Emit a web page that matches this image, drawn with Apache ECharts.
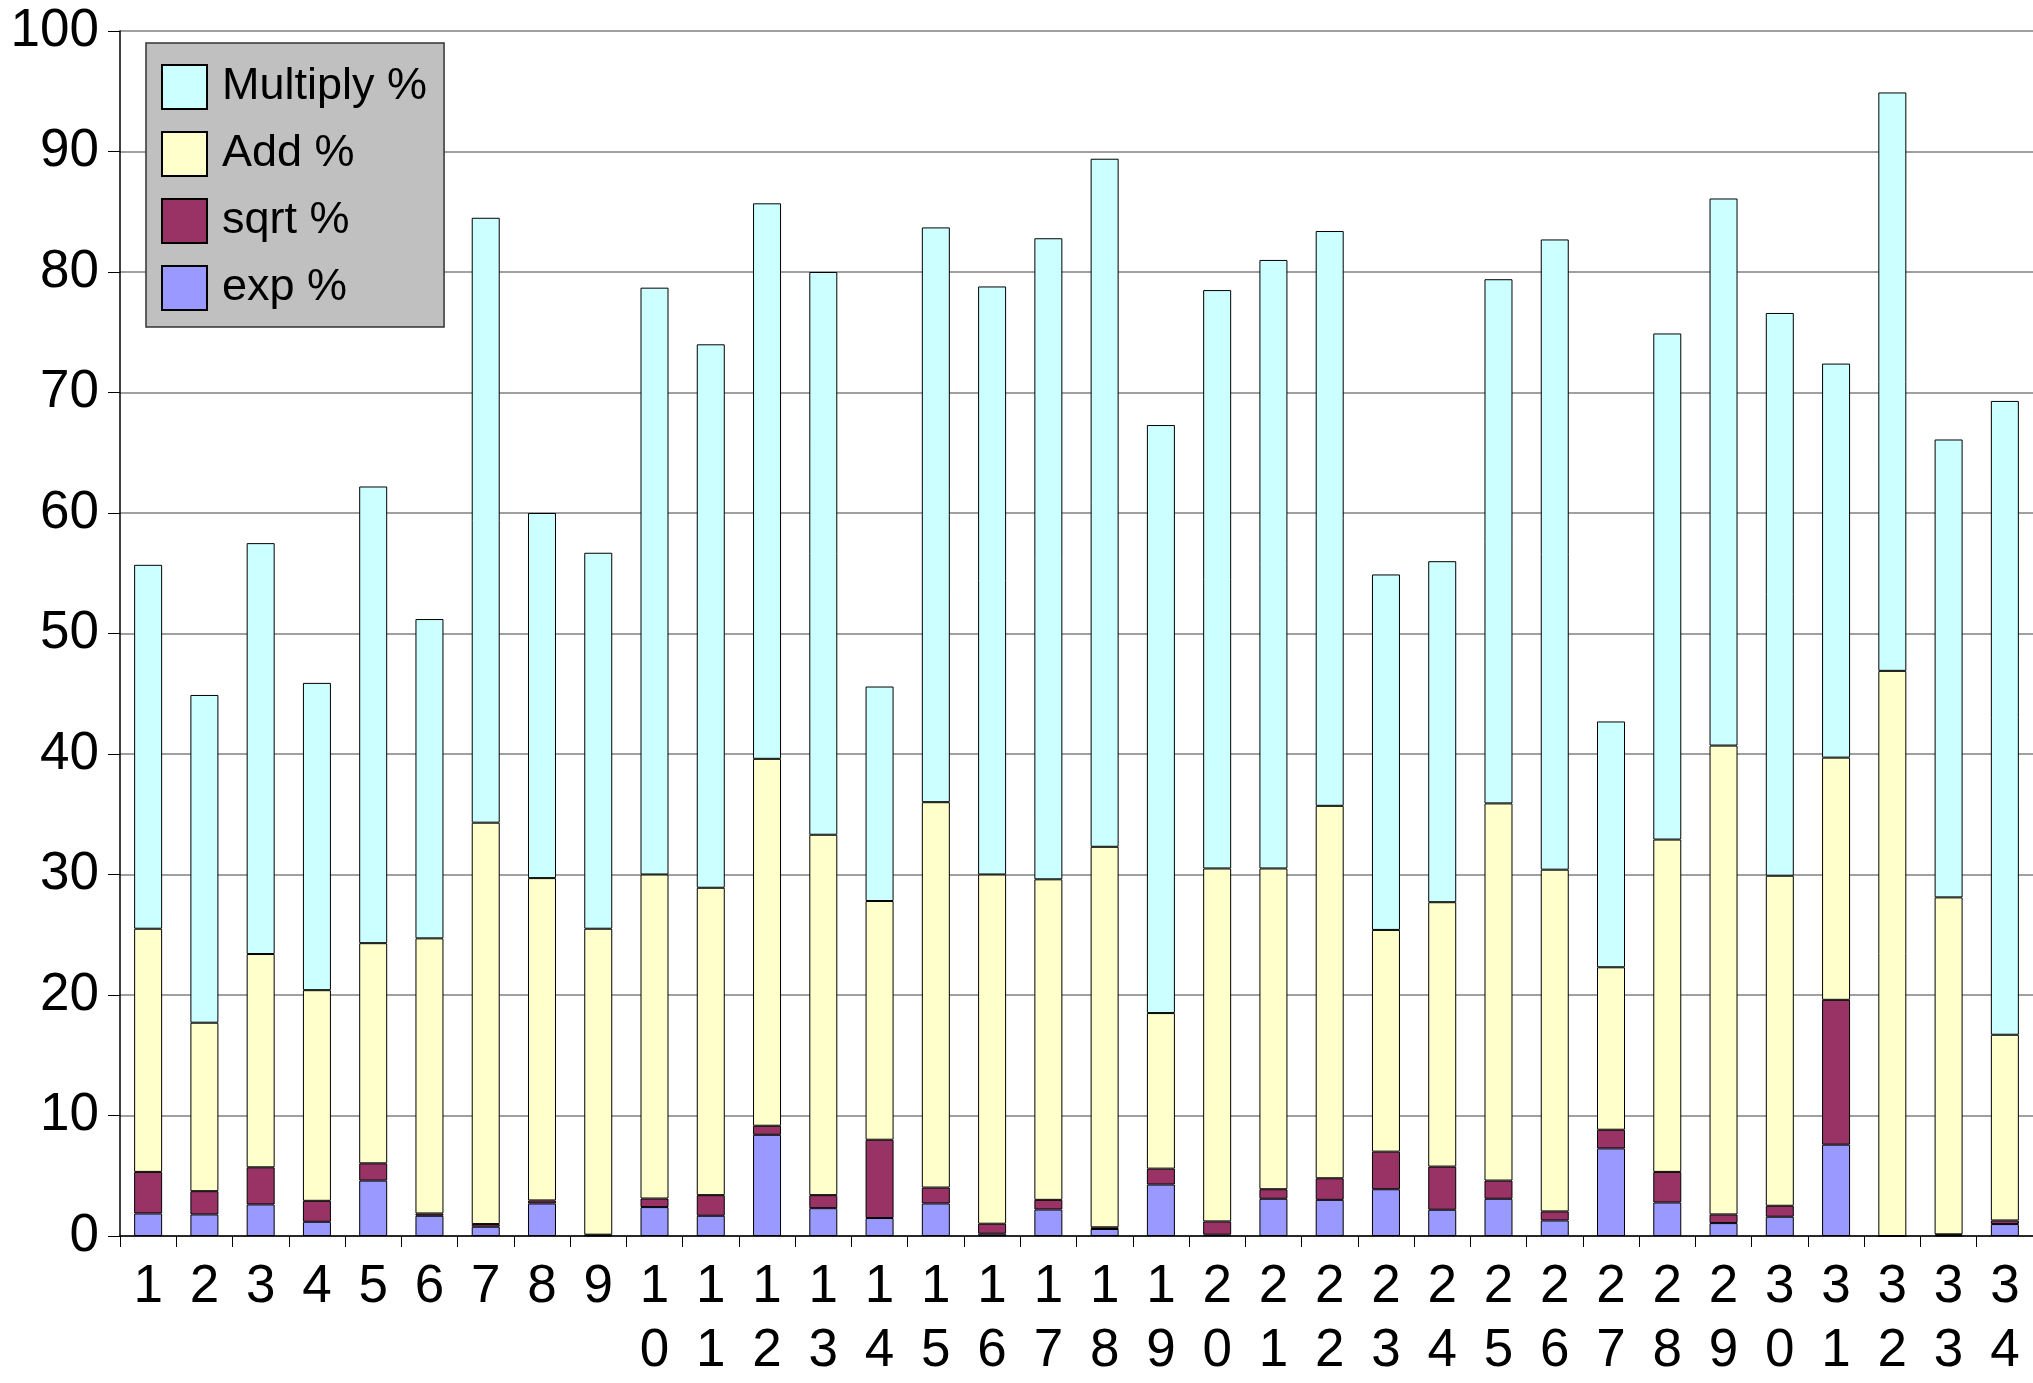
<!DOCTYPE html>
<html>
<head>
<meta charset="utf-8">
<script src="https://cdn.jsdelivr.net/npm/echarts@6/dist/echarts.min.js"></script>
<style>
html,body{margin:0;padding:0;background:#fff;}
#c{width:2033px;height:1383px;}
</style>
</head>
<body>
<div id="c"></div>
<script>
const categories = ["1","2","3","4","5","6","7","8","9","10","11","12","13","14","15","16","17","18","19","20","21","22","23","24","25","26","27","28","29","30","31","32","33","34"];
const expPct = [1.87,1.79,2.62,1.18,4.6,1.68,0.77,2.7,0.05,2.4,1.68,8.4,2.31,1.49,2.7,0.19,2.2,0.58,4.27,0.11,3.09,3.0,3.88,2.18,3.09,1.29,7.27,2.78,1.07,1.6,7.58,0,0.05,0.99];
const sqrtPct = [3.45,1.93,3.08,1.74,1.43,0.19,0.22,0.25,0.06,0.71,1.71,0.75,1.08,6.5,1.32,0.83,0.8,0.14,1.32,1.1,0.79,1.79,3.12,3.58,1.51,0.75,1.55,2.54,0.72,0.91,12.02,0,0.09,0.3];
const addPct = [20.18,13.98,17.7,17.48,18.27,22.83,33.31,26.75,25.39,26.89,25.51,30.45,29.91,19.81,31.98,28.98,26.6,31.58,12.91,29.29,26.62,30.91,18.4,21.94,31.3,28.36,13.48,27.58,38.91,27.39,20.1,46.9,27.96,15.41];
const multiplyPct = [30.2,27.2,34.1,25.5,37.9,26.5,50.2,30.3,31.2,48.7,45.1,46.1,46.7,17.8,47.7,48.8,53.2,57.1,48.8,48.0,50.5,47.7,29.5,28.3,43.5,52.3,20.4,42.0,45.4,46.7,32.7,48.0,38.0,52.6];
const yTicks = [0,10,20,30,40,50,60,70,80,90,100];

const FONT = '"Liberation Sans", Arial, sans-serif';
const chart = echarts.init(document.getElementById('c'), null, {renderer:'canvas'});

function mk(name, data, color){
  return {
    name: name, type: 'bar', stack: 'total', data: data,
    barWidth: 28,
    itemStyle: {color: color, borderColor: '#000', borderWidth: 1},
    emphasis: {disabled: true}
  };
}

chart.setOption({
  animation: false,
  backgroundColor: '#fff',
  grid: {left: 120, right: -3, top: 31, bottom: 142, containLabel: false},
  legend: {
    orient: 'vertical', left: 146, top: 43,
    padding: [21, 17, 16, 15],
    backgroundColor: '#c0c0c0', borderColor: '#333', borderWidth: 1.5,
    itemWidth: 45, itemHeight: 44, itemGap: 21,
    icon: 'rect',
    selectedMode: false,
    data: ['Multiply %', 'Add %', 'sqrt %', 'exp %'],
    textStyle: {fontFamily: FONT, fontSize: 45, color: '#000', lineHeight: 44, padding: [0,0,0,10]}
  },
  xAxis: {
    type: 'category', data: categories,
    axisLine: {lineStyle: {color: '#000', width: 1.5}},
    axisTick: {show: true, length: 11, lineStyle: {color: '#000', width: 1}},
    axisLabel: {
      interval: 0, margin: 19, color: '#000', fontFamily: FONT, fontSize: 53, lineHeight: 64,
      formatter: function(v){ return v.split('').join('\n'); }
    },
    splitLine: {show: false}
  },
  yAxis: {
    type: 'value', min: 0, max: 100, interval: 10,
    axisLine: {show: true, lineStyle: {color: '#000', width: 1.5}},
    axisTick: {show: true, length: 12, lineStyle: {color: '#000', width: 1}},
    axisLabel: {
      margin: 21, color: '#000', fontFamily: FONT, fontSize: 53,
      formatter: function(v){ return yTicks.indexOf(v) >= 0 ? String(v) : ''; }
    },
    splitLine: {show: true, lineStyle: {color: '#808080', width: 1.5}}
  },
  series: [
    mk('exp %', expPct, '#9999ff'),
    mk('sqrt %', sqrtPct, '#993366'),
    mk('Add %', addPct, '#ffffcc'),
    mk('Multiply %', multiplyPct, '#ccffff')
  ]
});
</script>
</body>
</html>
